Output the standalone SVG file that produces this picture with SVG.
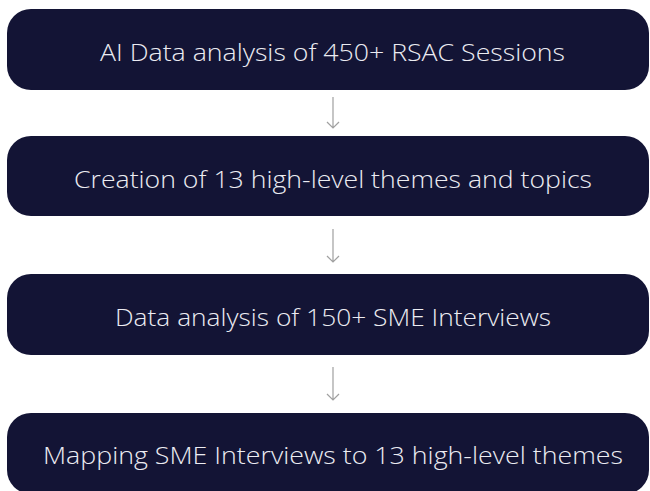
<svg xmlns="http://www.w3.org/2000/svg" width="650" height="491" viewBox="0 0 650 491">
  <style>
    .box { fill: #131435; }
    .label { fill: #ececf2; font-family: "Open Sans", "Noto Sans", "Liberation Sans", sans-serif; font-size: 23px; font-weight: 300; text-anchor: middle; }
    .arrow { stroke: #a0a0a0; stroke-width: 1.2; fill: none; }
  </style>
  <rect width="650" height="491" fill="#ffffff"/>

  <g id="node-ai-analysis">
    <rect class="box" x="7" y="9" width="642" height="81" rx="24"/>
    <text class="label" x="332.5" y="61" textLength="465" lengthAdjust="spacingAndGlyphs">AI Data analysis of 450+ RSAC Sessions</text>
  </g>

  <g id="node-themes">
    <rect class="box" x="7" y="136" width="642" height="80" rx="24"/>
    <text class="label" x="333" y="188" textLength="518" lengthAdjust="spacingAndGlyphs">Creation of 13 high-level themes and topics</text>
  </g>

  <g id="node-sme-analysis">
    <rect class="box" x="7" y="274" width="642" height="81" rx="24"/>
    <text class="label" x="333" y="326" textLength="436" lengthAdjust="spacingAndGlyphs">Data analysis of 150+ SME Interviews</text>
  </g>

  <g id="node-mapping">
    <rect class="box" x="7" y="413" width="642" height="81" rx="24"/>
    <text class="label" x="333" y="464" textLength="580" lengthAdjust="spacingAndGlyphs">Mapping SME Interviews to 13 high-level themes</text>
  </g>

  <g id="connectors">
    <path class="arrow" d="M333 97 V128 M327 122 L333 128 L339 122"/>
    <path class="arrow" d="M333 229 V262 M327 256 L333 262 L339 256"/>
    <path class="arrow" d="M333 367 V400 M327 394 L333 400 L339 394"/>
  </g>
</svg>
